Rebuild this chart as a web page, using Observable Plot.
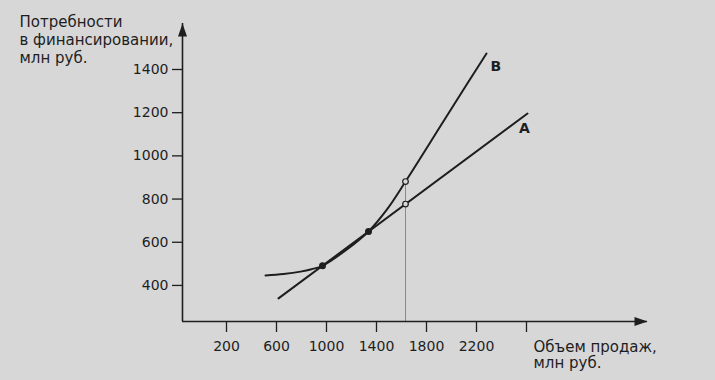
<!DOCTYPE html>
<html>
<head>
<meta charset="utf-8">
<script src="https://cdn.jsdelivr.net/npm/d3@7"></script>
<script src="https://cdn.jsdelivr.net/npm/@observablehq/plot@0.6"></script>
<style>
  html, body { margin: 0; padding: 0; background: #d7d7d7; }
  #chart svg { display: block; }
</style>
</head>
<body>
<div id="chart"></div>
<script>
// ---- data ----
const xTicks = [200, 600, 1000, 1400, 1800, 2200, 2600];
const xTickLabels = ["200", "600", "1000", "1400", "1800", "2200", ""];
const yTicks = [400, 600, 800, 1000, 1200, 1400];
const yTickLabels = ["400", "600", "800", "1000", "1200", "1400"];

// straight line A
const salesA = [616, 2608];
const needsA = [340, 1196];

// curve B
const salesB = [512, 656, 792, 880, 968, 1152, 1336, 1484, 1632, 1936, 2128, 2280];
const needsB = [446, 453, 464, 475, 491, 562, 650, 752, 881, 1160, 1336, 1474];

// filled intersection points
const markedSales = [968, 1336];
const markedNeeds = [491, 650];

// comparison at one sales level (open circles + drop line)
const compareSales = [1632, 1632];
const compareNeeds = [777, 881];

const seriesNames = ["А", "В"];
const yTitle = ["Потребности", "в финансировании,", "млн руб."];
const xTitle = ["Объем продаж,", "млн руб."];

const xDomain = [-152, 3568];
const yDomain = [233, 1613];

// ---- build tables ----
const lineA = salesA.map((x, i) => ({x, y: needsA[i]}));
const lineB = salesB.map((x, i) => ({x, y: needsB[i]}));
const marked = markedSales.map((x, i) => ({x, y: markedNeeds[i]}));
const compare = compareSales.map((x, i) => ({x, y: compareNeeds[i]}));

const ink = "#1e1e1e";
const arrowUp = {draw(c) { c.moveTo(0, 0); c.lineTo(-4.5, 13); c.lineTo(4.5, 13); c.closePath(); }};
const arrowRight = {draw(c) { c.moveTo(0, 0); c.lineTo(-13, -4.5); c.lineTo(-13, 4.5); c.closePath(); }};

const chart = Plot.plot({
  width: 715,
  height: 380,
  marginLeft: 182,
  marginRight: 68,
  marginTop: 23,
  marginBottom: 59,
  x: {domain: xDomain},
  y: {domain: yDomain},
  style: {background: "#d7d7d7", fontFamily: "DejaVu Sans", fontSize: "14px", color: ink},
  marks: [
    // drop line
    Plot.ruleX([compareSales[0]], {x: d => d, y1: yDomain[0], y2: compareNeeds[1], stroke: "#8a8a8a", strokeWidth: 1}),
    // axes lines
    Plot.ruleX([xDomain[0]], {stroke: ink, strokeWidth: 1.6}),
    Plot.ruleY([yDomain[0]], {stroke: ink, strokeWidth: 1.6}),
    Plot.dot([0], {x: () => xDomain[0], y: () => yDomain[1], symbol: arrowUp, r: 5, fill: ink, stroke: "none"}),
    Plot.dot([0], {x: () => xDomain[1], y: () => yDomain[0], symbol: arrowRight, r: 5, fill: ink, stroke: "none"}),
    Plot.axisY(yTicks, {tickSize: 10, tickPadding: 4, stroke: ink, strokeWidth: 1.3, fill: ink, fontSize: 14, label: null,
      tickFormat: d => yTickLabels[yTicks.indexOf(d)]}),
    Plot.axisX(xTicks, {tickSize: 11, tickPadding: 9, stroke: ink, strokeWidth: 1.3, fill: ink, fontSize: 14, label: null,
      tickFormat: d => xTickLabels[xTicks.indexOf(d)]}),
    // series
    Plot.line(lineA, {x: "x", y: "y", stroke: ink, strokeWidth: 2}),
    Plot.line(lineB, {x: "x", y: "y", stroke: ink, strokeWidth: 2, curve: "catmull-rom"}),
    Plot.dot(marked, {x: "x", y: "y", r: 3.5, fill: ink, stroke: "none"}),
    Plot.dot(compare, {x: "x", y: "y", r: 2.8, fill: "#d7d7d7", stroke: ink, strokeWidth: 1.2}),
    // series labels
    Plot.text([lineA[lineA.length - 1]], {x: "x", y: "y", text: () => seriesNames[0], dx: -3, dy: 15, fontSize: 14, fontWeight: "bold", fill: ink}),
    Plot.text([lineB[lineB.length - 1]], {x: "x", y: "y", text: () => seriesNames[1], dx: 4, dy: 13, textAnchor: "start", fontSize: 14, fontWeight: "bold", fill: ink}),
    // axis titles
    Plot.text([yTitle.join("\n")], {frameAnchor: "top-left", dx: -163, dy: -10, textAnchor: "start", lineAnchor: "top", lineHeight: 1.23, fontSize: 15, fill: ink}),
    Plot.text([xTitle.join("\n")], {frameAnchor: "bottom-left", dx: 351, dy: 18, textAnchor: "start", lineAnchor: "top", lineHeight: 1.13, fontSize: 15, fill: ink})
  ]
});
document.getElementById("chart").appendChild(chart);
</script>
</body>
</html>
